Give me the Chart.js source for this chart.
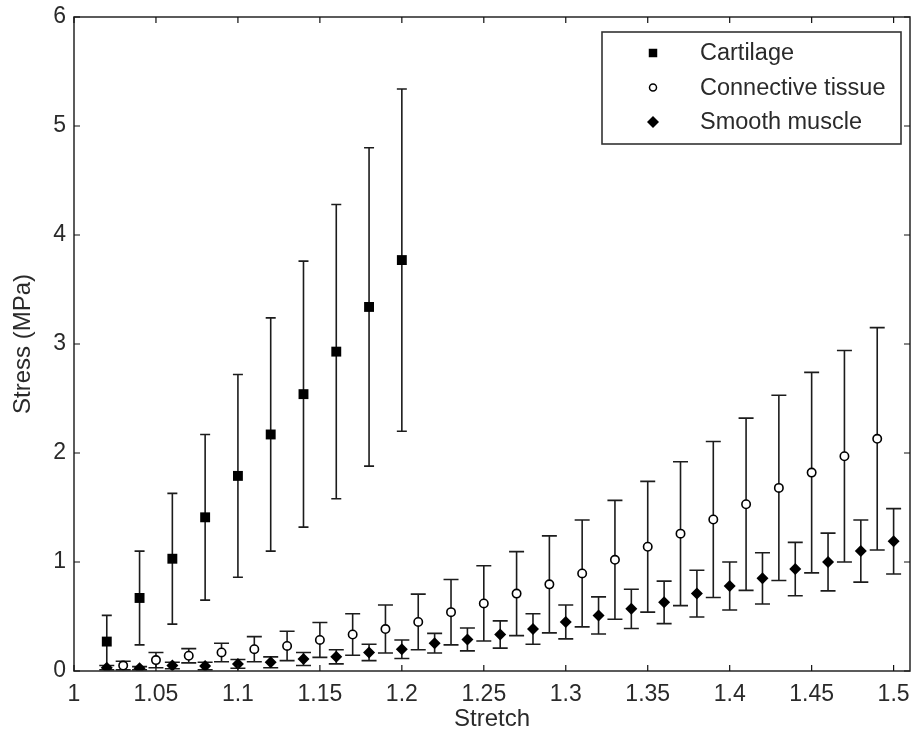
<!DOCTYPE html>
<html>
<head>
<meta charset="utf-8">
<script src="https://cdn.jsdelivr.net/npm/chart.js@4.4.0/dist/chart.umd.min.js"></script>
<style>
html,body{margin:0;padding:0;background:#ffffff;}
#wrap{width:912px;height:736px;position:relative;}
</style>
</head>
<body>
<div id="wrap"><canvas id="c" width="912" height="736"></canvas></div>
<script>
// ---- axis ticks ----
const xTicks = [1, 1.05, 1.1, 1.15, 1.2, 1.25, 1.3, 1.35, 1.4, 1.45, 1.5];
const xTickLabels = ['1', '1.05', '1.1', '1.15', '1.2', '1.25', '1.3', '1.35', '1.4', '1.45', '1.5'];
const yTicks = [0, 1, 2, 3, 4, 5, 6];
const yTickLabels = ['0', '1', '2', '3', '4', '5', '6'];
const xTitle = 'Stretch';
const yTitle = 'Stress (MPa)';
const seriesNames = ['Cartilage', 'Connective tissue', 'Smooth muscle'];

// ---- Cartilage ----
const cartilageStretch = [1.02, 1.04, 1.06, 1.08, 1.10, 1.12, 1.14, 1.16, 1.18, 1.20];
const cartilageStress  = [0.27, 0.67, 1.03, 1.41, 1.79, 2.17, 2.54, 2.93, 3.34, 3.77];
const cartilageSD      = [0.24, 0.43, 0.60, 0.76, 0.93, 1.07, 1.22, 1.35, 1.46, 1.57];

// ---- Connective tissue ----
const connectiveStretch = [1.03, 1.05, 1.07, 1.09, 1.11, 1.13, 1.15, 1.17, 1.19, 1.21, 1.23, 1.25,
                           1.27, 1.29, 1.31, 1.33, 1.35, 1.37, 1.39, 1.41, 1.43, 1.45, 1.47, 1.49];
const connectiveStress  = [0.05, 0.10, 0.14, 0.17, 0.20, 0.23, 0.285, 0.335, 0.385, 0.45, 0.54, 0.62,
                           0.71, 0.795, 0.895, 1.02, 1.14, 1.26, 1.39, 1.53, 1.68, 1.82, 1.97, 2.13];
const connectiveSD      = [0.04, 0.07, 0.065, 0.085, 0.115, 0.135, 0.16, 0.19, 0.22, 0.255, 0.30, 0.345,
                           0.385, 0.445, 0.49, 0.545, 0.60, 0.66, 0.715, 0.79, 0.85, 0.92, 0.97, 1.02];

// ---- Smooth muscle ----
const smoothStretch = [1.02, 1.04, 1.06, 1.08, 1.10, 1.12, 1.14, 1.16, 1.18, 1.20, 1.22, 1.24, 1.26,
                       1.28, 1.30, 1.32, 1.34, 1.36, 1.38, 1.40, 1.42, 1.44, 1.46, 1.48, 1.50];
const smoothStress  = [0.03, 0.025, 0.05, 0.045, 0.065, 0.08, 0.11, 0.13, 0.17, 0.20, 0.255, 0.29, 0.335,
                       0.385, 0.45, 0.51, 0.57, 0.63, 0.71, 0.78, 0.85, 0.935, 1.0, 1.10, 1.19];
const smoothSD      = [0.02, 0.015, 0.03, 0.035, 0.04, 0.05, 0.06, 0.065, 0.075, 0.085, 0.09, 0.105, 0.125,
                       0.14, 0.155, 0.17, 0.18, 0.195, 0.215, 0.22, 0.235, 0.245, 0.265, 0.285, 0.30];

const FONT = "'Liberation Sans', Arial, sans-serif";
const TEXT = '#2a2a2a';
const INK = '#111111';

function pts(xs, ys, es) { return xs.map((x, i) => ({x: x, y: ys[i], e: es[i]})); }

// keep the plot box flush to the right edge (Chart.js reserves a few px for the last tick label)
const areaFixPlugin = {
  id: 'areaFix',
  afterLayout(chart) {
    const a = chart.chartArea, x = chart.scales.x;
    const target = chart.width - 2;
    if (a.right !== target) {
      a.right = target;
      a.width = target - a.left;
      x.right = target;
      x.width = target - x.left;
      x.configure();
    }
  }
};

const errorBarsPlugin = {
  id: 'errorBars',
  beforeDatasetsDraw(chart) {
    const {ctx, chartArea: a, scales: {x, y}} = chart;
    ctx.save();
    ctx.beginPath();
    ctx.rect(a.left, a.top, a.right - a.left, a.bottom - a.top);
    ctx.clip();
    ctx.strokeStyle = '#1c1c1c';
    ctx.lineWidth = 1.6;
    chart.data.datasets.forEach(ds => {
      const hw = ds.capHalfWidth;
      ds.data.forEach(p => {
        const px = x.getPixelForValue(p.x);
        const yt = y.getPixelForValue(p.y + p.e);
        const yb = y.getPixelForValue(p.y - p.e);
        ctx.beginPath();
        ctx.moveTo(px, yt); ctx.lineTo(px, yb);
        ctx.moveTo(px - hw, yt); ctx.lineTo(px + hw, yt);
        ctx.moveTo(px - hw, yb); ctx.lineTo(px + hw, yb);
        ctx.stroke();
      });
    });
    ctx.restore();
  }
};

const framePlugin = {
  id: 'frame',
  afterDraw(chart) {
    const {ctx, chartArea: a, scales: {x, y}} = chart;
    ctx.save();
    ctx.strokeStyle = '#333333';
    ctx.lineWidth = 1.6;
    ctx.strokeRect(a.left, a.top, a.right - a.left, a.bottom - a.top);
    ctx.strokeStyle = INK;
    ctx.lineWidth = 1.2;
    const L = 6;
    ctx.beginPath();
    x.ticks.forEach(t => {
      const px = x.getPixelForValue(t.value);
      ctx.moveTo(px, a.bottom); ctx.lineTo(px, a.bottom - L);
      ctx.moveTo(px, a.top); ctx.lineTo(px, a.top + L);
    });
    y.ticks.forEach(t => {
      const py = y.getPixelForValue(t.value);
      ctx.moveTo(a.left, py); ctx.lineTo(a.left + L, py);
      ctx.moveTo(a.right, py); ctx.lineTo(a.right - L, py);
    });
    ctx.stroke();
    ctx.restore();
  }
};

function drawMarker(ctx, style, cx, cy) {
  ctx.save();
  ctx.fillStyle = style.bg; ctx.strokeStyle = style.border; ctx.lineWidth = style.bw;
  ctx.beginPath();
  if (style.shape === 'rect') {
    const s = style.r * Math.SQRT1_2;
    ctx.rect(cx - s, cy - s, 2 * s, 2 * s);
  } else if (style.shape === 'rectRot') {
    ctx.moveTo(cx - style.r, cy); ctx.lineTo(cx, cy - style.r);
    ctx.lineTo(cx + style.r, cy); ctx.lineTo(cx, cy + style.r); ctx.closePath();
  } else {
    ctx.arc(cx, cy, style.r, 0, Math.PI * 2);
  }
  ctx.fill();
  if (style.bw > 0) ctx.stroke();
  ctx.restore();
}

const legendPlugin = {
  id: 'boxLegend',
  afterDraw(chart) {
    const {ctx, chartArea: a} = chart;
    const w = 299, h = 112;
    const left = a.right - 9 - w, top = a.top + 15;
    ctx.save();
    ctx.fillStyle = '#ffffff';
    ctx.fillRect(left, top, w, h);
    ctx.strokeStyle = '#333333';
    ctx.lineWidth = 1.6;
    ctx.strokeRect(left, top, w, h);
    ctx.font = '23.5px ' + FONT;
    ctx.fillStyle = TEXT;
    ctx.textBaseline = 'middle';
    ctx.textAlign = 'left';
    chart.data.datasets.forEach((ds, i) => {
      const cy = top + 21 + i * 34.5;
      drawMarker(ctx, ds.legendMarker, left + 51, cy);
      ctx.fillText(ds.label, left + 98, cy + 1);
    });
    ctx.restore();
  }
};

const datasets = [
  {
    label: seriesNames[0],
    data: pts(cartilageStretch, cartilageStress, cartilageSD),
    showLine: false,
    pointStyle: 'rect', pointRadius: 7, pointHoverRadius: 7,
    backgroundColor: '#000000', borderColor: '#000000', borderWidth: 0,
    capHalfWidth: 5,
    legendMarker: {shape: 'rect', r: 6, bg: '#000', border: '#000', bw: 0}
  },
  {
    label: seriesNames[1],
    data: pts(connectiveStretch, connectiveStress, connectiveSD),
    showLine: false,
    pointStyle: 'circle', pointRadius: 4.2, pointHoverRadius: 4.2,
    backgroundColor: '#ffffff', borderColor: '#000000', borderWidth: 1.6,
    capHalfWidth: 7.5,
    legendMarker: {shape: 'circle', r: 3.5, bg: '#fff', border: '#000', bw: 1.5}
  },
  {
    label: seriesNames[2],
    data: pts(smoothStretch, smoothStress, smoothSD),
    showLine: false,
    pointStyle: 'rectRot', pointRadius: 6, pointHoverRadius: 6,
    backgroundColor: '#000000', borderColor: '#000000', borderWidth: 0,
    capHalfWidth: 7.5,
    legendMarker: {shape: 'rectRot', r: 6, bg: '#000', border: '#000', bw: 0}
  }
];

new Chart(document.getElementById('c'), {
  type: 'scatter',
  data: {datasets: datasets},
  plugins: [areaFixPlugin, errorBarsPlugin, framePlugin, legendPlugin],
  options: {
    responsive: false,
    animation: false,
    devicePixelRatio: 1,
    layout: {padding: {top: 17, right: 2, left: 0, bottom: 0}},
    plugins: {legend: {display: false}, tooltip: {enabled: false}},
    scales: {
      x: {
        type: 'linear', min: 1, max: 1.51,
        afterBuildTicks: s => { s.ticks = xTicks.map(v => ({value: v})); },
        afterFit: s => { s.height = 65; s.paddingLeft = 0; s.paddingRight = 0; },
        grid: {display: false, drawTicks: false},
        border: {display: false},
        ticks: {
          padding: 10, color: TEXT, font: {family: FONT, size: 23},
          autoSkip: false, maxRotation: 0,
          callback: (v, i) => xTickLabels[i]
        },
        title: {display: true, text: xTitle, color: TEXT, font: {family: FONT, size: 24}, padding: {top: 0, bottom: 2}}
      },
      y: {
        type: 'linear', min: 0, max: 6,
        afterBuildTicks: s => { s.ticks = yTicks.map(v => ({value: v})); },
        afterFit: s => { s.width = 74; s.paddingTop = 0; s.paddingBottom = 0; },
        grid: {display: false, drawTicks: false},
        border: {display: false},
        ticks: {
          padding: 8, color: TEXT, font: {family: FONT, size: 23},
          autoSkip: false,
          callback: (v, i) => yTickLabels[i]
        },
        title: {display: true, text: yTitle, color: TEXT, font: {family: FONT, size: 24}, padding: {top: 9, bottom: 0}}
      }
    }
  }
});
</script>
</body>
</html>
